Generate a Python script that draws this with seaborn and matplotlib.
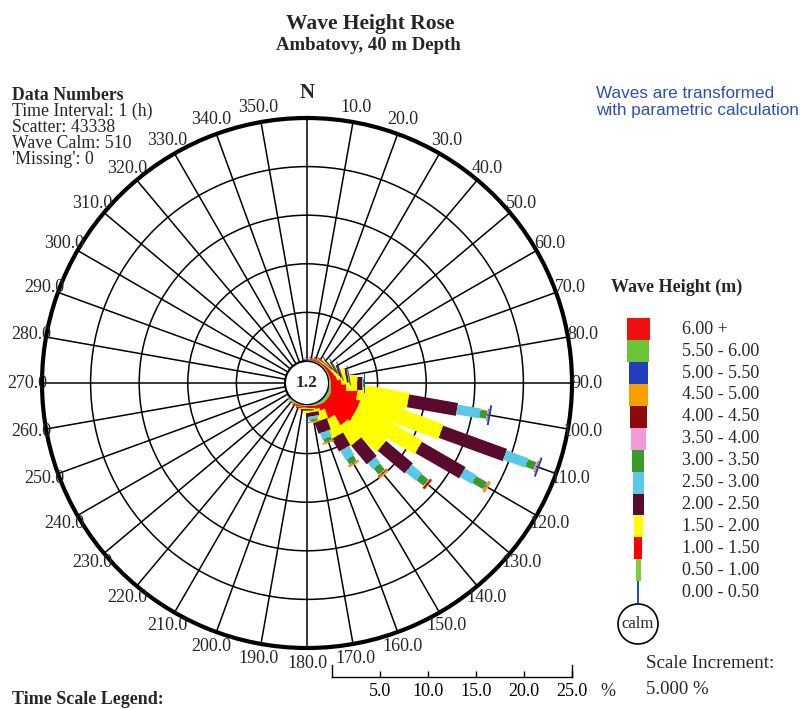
"""
Wave height rose - Ambatovy, 40 m depth
"""

import numpy as np
import pandas as pd
import seaborn as sns
import matplotlib.pyplot as plt
from matplotlib.patches import Circle

# directions (deg) that carry waves, 10 deg sectors
directions = [10, 20, 30, 40, 50, 60, 70, 80, 90, 100, 110,
              120, 130, 140, 150, 160, 170, 180, 190, 200, 210, 220]

# frequency (%) per wave height class, same order as directions
h_000_050 = [0.10, 0.05, 0.05, 0.05, 0.05, 0.05, 0.05, 0.05, 0.05, 0.10, 0.10,
             0.10, 0.10, 0.10, 0.10, 0.05, 0.05, 0.05, 0.05, 0.05, 0.05, 0.05]
h_050_100 = [0.00, 0.05, 0.08, 0.10, 0.10, 0.10, 0.10, 0.15, 0.15, 0.30, 0.30,
             0.30, 0.30, 0.30, 0.30, 0.20, 0.15, 0.10, 0.10, 0.10, 0.10, 0.05]
h_100_150 = [0.00, 0.05, 0.10, 0.15, 0.25, 0.40, 0.60, 1.00, 1.50, 2.60, 3.10,
             3.10, 3.20, 2.90, 1.60, 0.60, 0.30, 0.15, 0.10, 0.05, 0.00, 0.00]
h_150_200 = [0.00, 0.00, 0.05, 0.10, 0.20, 0.30, 0.40, 0.60, 1.20, 5.30, 8.90,
             7.50, 4.20, 2.30, 2.00, 1.00, 0.30, 0.10, 0.05, 0.00, 0.00, 0.00]
h_200_250 = [0.00, 0.00, 0.00, 0.00, 0.05, 0.10, 0.15, 0.20, 0.50, 5.10, 7.00,
             5.20, 3.60, 2.50, 1.50, 1.20, 0.40, 0.10, 0.00, 0.00, 0.00, 0.00]
h_250_300 = [0.00, 0.00, 0.00, 0.00, 0.00, 0.00, 0.00, 0.05, 0.10, 2.40, 2.40,
             1.40, 1.40, 0.80, 1.10, 0.70, 0.30, 0.05, 0.00, 0.00, 0.00, 0.00]
h_300_350 = [0.00, 0.00, 0.00, 0.00, 0.00, 0.00, 0.00, 0.00, 0.05, 0.70, 0.90,
             1.30, 0.90, 0.80, 0.60, 0.35, 0.20, 0.05, 0.00, 0.00, 0.00, 0.00]
h_350_400 = [0.00, 0.00, 0.00, 0.00, 0.00, 0.00, 0.00, 0.00, 0.00, 0.10, 0.15,
             0.10, 0.10, 0.10, 0.05, 0.05, 0.05, 0.00, 0.00, 0.00, 0.00, 0.00]
h_400_450 = [0.00, 0.00, 0.00, 0.00, 0.00, 0.00, 0.00, 0.00, 0.00, 0.05, 0.05,
             0.05, 0.20, 0.10, 0.05, 0.05, 0.05, 0.00, 0.00, 0.00, 0.00, 0.00]
h_450_500 = [0.00, 0.00, 0.00, 0.00, 0.00, 0.00, 0.00, 0.00, 0.00, 0.05, 0.05,
             0.20, 0.10, 0.20, 0.15, 0.10, 0.05, 0.00, 0.00, 0.00, 0.00, 0.00]
h_500_550 = [0.00, 0.00, 0.00, 0.08, 0.10, 0.10, 0.10, 0.10, 0.15, 0.20, 0.20,
             0.00, 0.00, 0.00, 0.00, 0.00, 0.00, 0.00, 0.00, 0.00, 0.00, 0.00]
h_550_600 = [0.0] * 22
h_600_up = [0.0] * 22

class_labels = ["0.00 - 0.50", "0.50 - 1.00", "1.00 - 1.50", "1.50 - 2.00",
                "2.00 - 2.50", "2.50 - 3.00", "3.00 - 3.50", "3.50 - 4.00",
                "4.00 - 4.50", "4.50 - 5.00", "5.00 - 5.50", "5.50 - 6.00", "6.00 +"]
calm_pct = 1.2
scale_ticks = [5, 10, 15, 20, 25]

classes = [h_000_050, h_050_100, h_100_150, h_150_200, h_200_250, h_250_300,
           h_300_350, h_350_400, h_400_450, h_450_500, h_500_550, h_550_600, h_600_up]
colors = ["#1a4fd0", "#7ccd3c", "#ff0000", "#ffff00", "#5a0a2c", "#5cc8e8",
          "#3a9a2a", "#f29ad6", "#8b0a0a", "#f5a000", "#1f3fbf", "#6ac539", "#f01010"]
# segment widths in the rose (px) and in the legend (px)
rose_w = [18, 20, 22, 16, 13, 10, 8, 12, 12, 12, 20, 20, 22]
leg_w = [2.5, 5, 8, 9, 11, 11, 12, 15, 17, 19, 19, 22, 23]

df = pd.DataFrame(dict(zip(class_labels, classes)), index=directions)

sns.set_theme(style="white")
plt.rcParams['font.family'] = ['Liberation Serif', 'DejaVu Serif']

W, H = 800, 709
fig = plt.figure(figsize=(8, 7.09), dpi=100)
def fx(x): return x / W
def fy(y): return 1 - y / H

#%% rose
CX, CY, R_PX, HOLE_PX = 307, 383, 265, 22
RMAX = 25
RORIG = -RMAX * HOLE_PX / (R_PX - HOLE_PX)
ax = fig.add_axes([fx(CX - R_PX), fy(CY + R_PX), 2 * R_PX / W, 2 * R_PX / H],
                  projection='polar')
ax.set_theta_zero_location('N')
ax.set_theta_direction(-1)
ax.set_ylim(0, RMAX)
ax.set_rorigin(RORIG)
ax.set_yticks([5, 10, 15, 20], labels=[''] * 4)
tick_deg = np.arange(0, 360, 10)
ax.set_xticks(np.deg2rad(tick_deg), labels=[''] * len(tick_deg))
ax.tick_params(axis='x', length=0)
ax.grid(True, color='black', lw=1.1)
ax.spines['polar'].set_linewidth(3)
ax.spines['polar'].set_color('black')
ax.spines['inner'].set_visible(True)
ax.spines['inner'].set_linewidth(1.5)
ax.spines['inner'].set_color('black')

def px_to_r(d):
    return d / R_PX * (RMAX - RORIG) + RORIG

# direction labels, centred just outside the circle
for d in tick_deg:
    t = np.deg2rad(d)
    if d == 0:
        ax.text(t, px_to_r(290), "N", ha='center', va='center',
                fontsize=15, fontweight='bold')
    else:
        ax.text(t, px_to_r(280), f"{d:.1f}", ha='center', va='center', fontsize=13)

theta = np.deg2rad(df.index.values)
bottom = np.zeros(len(df))
for lab, col, w in zip(class_labels, colors, rose_w):
    vals = df[lab].values
    for t, b, v in zip(theta, bottom, vals):
        if v > 0:
            ax.plot([t, t], [b, b + v], color=col, lw=w * 0.72,
                    solid_capstyle='butt', zorder=3)
    bottom = bottom + vals

ax.text(0.5, 0.5, f"{calm_pct:.1f}", transform=ax.transAxes, ha='center',
        va='center', fontsize=12.5, fontweight='bold', zorder=5)

#%% legend
lax = fig.add_axes([fx(600), fy(650), 200 / W, 350 / H])
lax.set_xlim(600, 800)
lax.set_ylim(650, 300)
lax.axis('off')
step = 21.9
centers = [603 - step * (i + 0.5) for i in range(len(class_labels))]
lax.barh(centers, leg_w, left=[638 - w / 2 for w in leg_w], height=step,
         color=colors, linewidth=0)
for c, lab in zip(centers, class_labels):
    lax.text(682, c, lab, va='center', ha='left', fontsize=13)
lax.add_patch(Circle((638, 624), 20, fill=False, ec='black', lw=1.2))
lax.text(638, 624, "calm", ha='center', va='center', fontsize=12)
fig.text(fx(611), fy(287), "Wave Height (m)", fontsize=13, fontweight='bold', va='center')

#%% scale bar
sax = fig.add_axes([fx(332), fy(677), 240 / W, 12 / H])
sax.set_xlim(0, 25)
sax.set_ylim(0, 1)
sax.set_yticks([])
sax.set_xticks(scale_ticks, labels=[f"{t:.1f}" for t in scale_ticks])
sax.tick_params(axis='x', direction='in', length=4.5, width=1, colors='black',
                labelsize=13, pad=4, bottom=True)
sax.spines['top'].set_visible(False)
for s in ['left', 'right', 'bottom']:
    sax.spines[s].set_color('black')
    sax.spines[s].set_linewidth(1)
sax.patch.set_alpha(0)
fig.text(fx(600), fy(691), "%", fontsize=13, va='center')

#%% texts
fig.text(fx(370), fy(24), "Wave Height Rose", ha='center', va='center',
         fontsize=15.5, fontweight='bold')
fig.text(fx(368), fy(46), "Ambatovy, 40 m Depth", ha='center', va='center',
         fontsize=13.5, fontweight='bold')
fig.text(fx(12), fy(95), "Data Numbers", va='center', fontsize=12.8, fontweight='bold')
info = ["Time Interval: 1 (h)", "Scatter: 43338", "Wave Calm: 510", "'Missing': 0"]
for i, s in enumerate(info):
    fig.text(fx(12), fy(111 + 16 * i), s, va='center', fontsize=12.8)
fig.text(fx(596), fy(93), "Waves are transformed", va='center', fontsize=12.3,
         color='#2b4fb5', family='Liberation Sans')
fig.text(fx(596), fy(111), "with parametric calculation", va='center', fontsize=12.3,
         color='#2b4fb5', family='Liberation Sans')
fig.text(fx(646), fy(664), "Scale Increment:", va='center', fontsize=13.7)
fig.text(fx(646), fy(690), "5.000 %", va='center', fontsize=13.5)
fig.text(fx(12), fy(700), "Time Scale Legend:", va='center', fontsize=13, fontweight='bold')

fig.savefig('out.png', dpi=100)
